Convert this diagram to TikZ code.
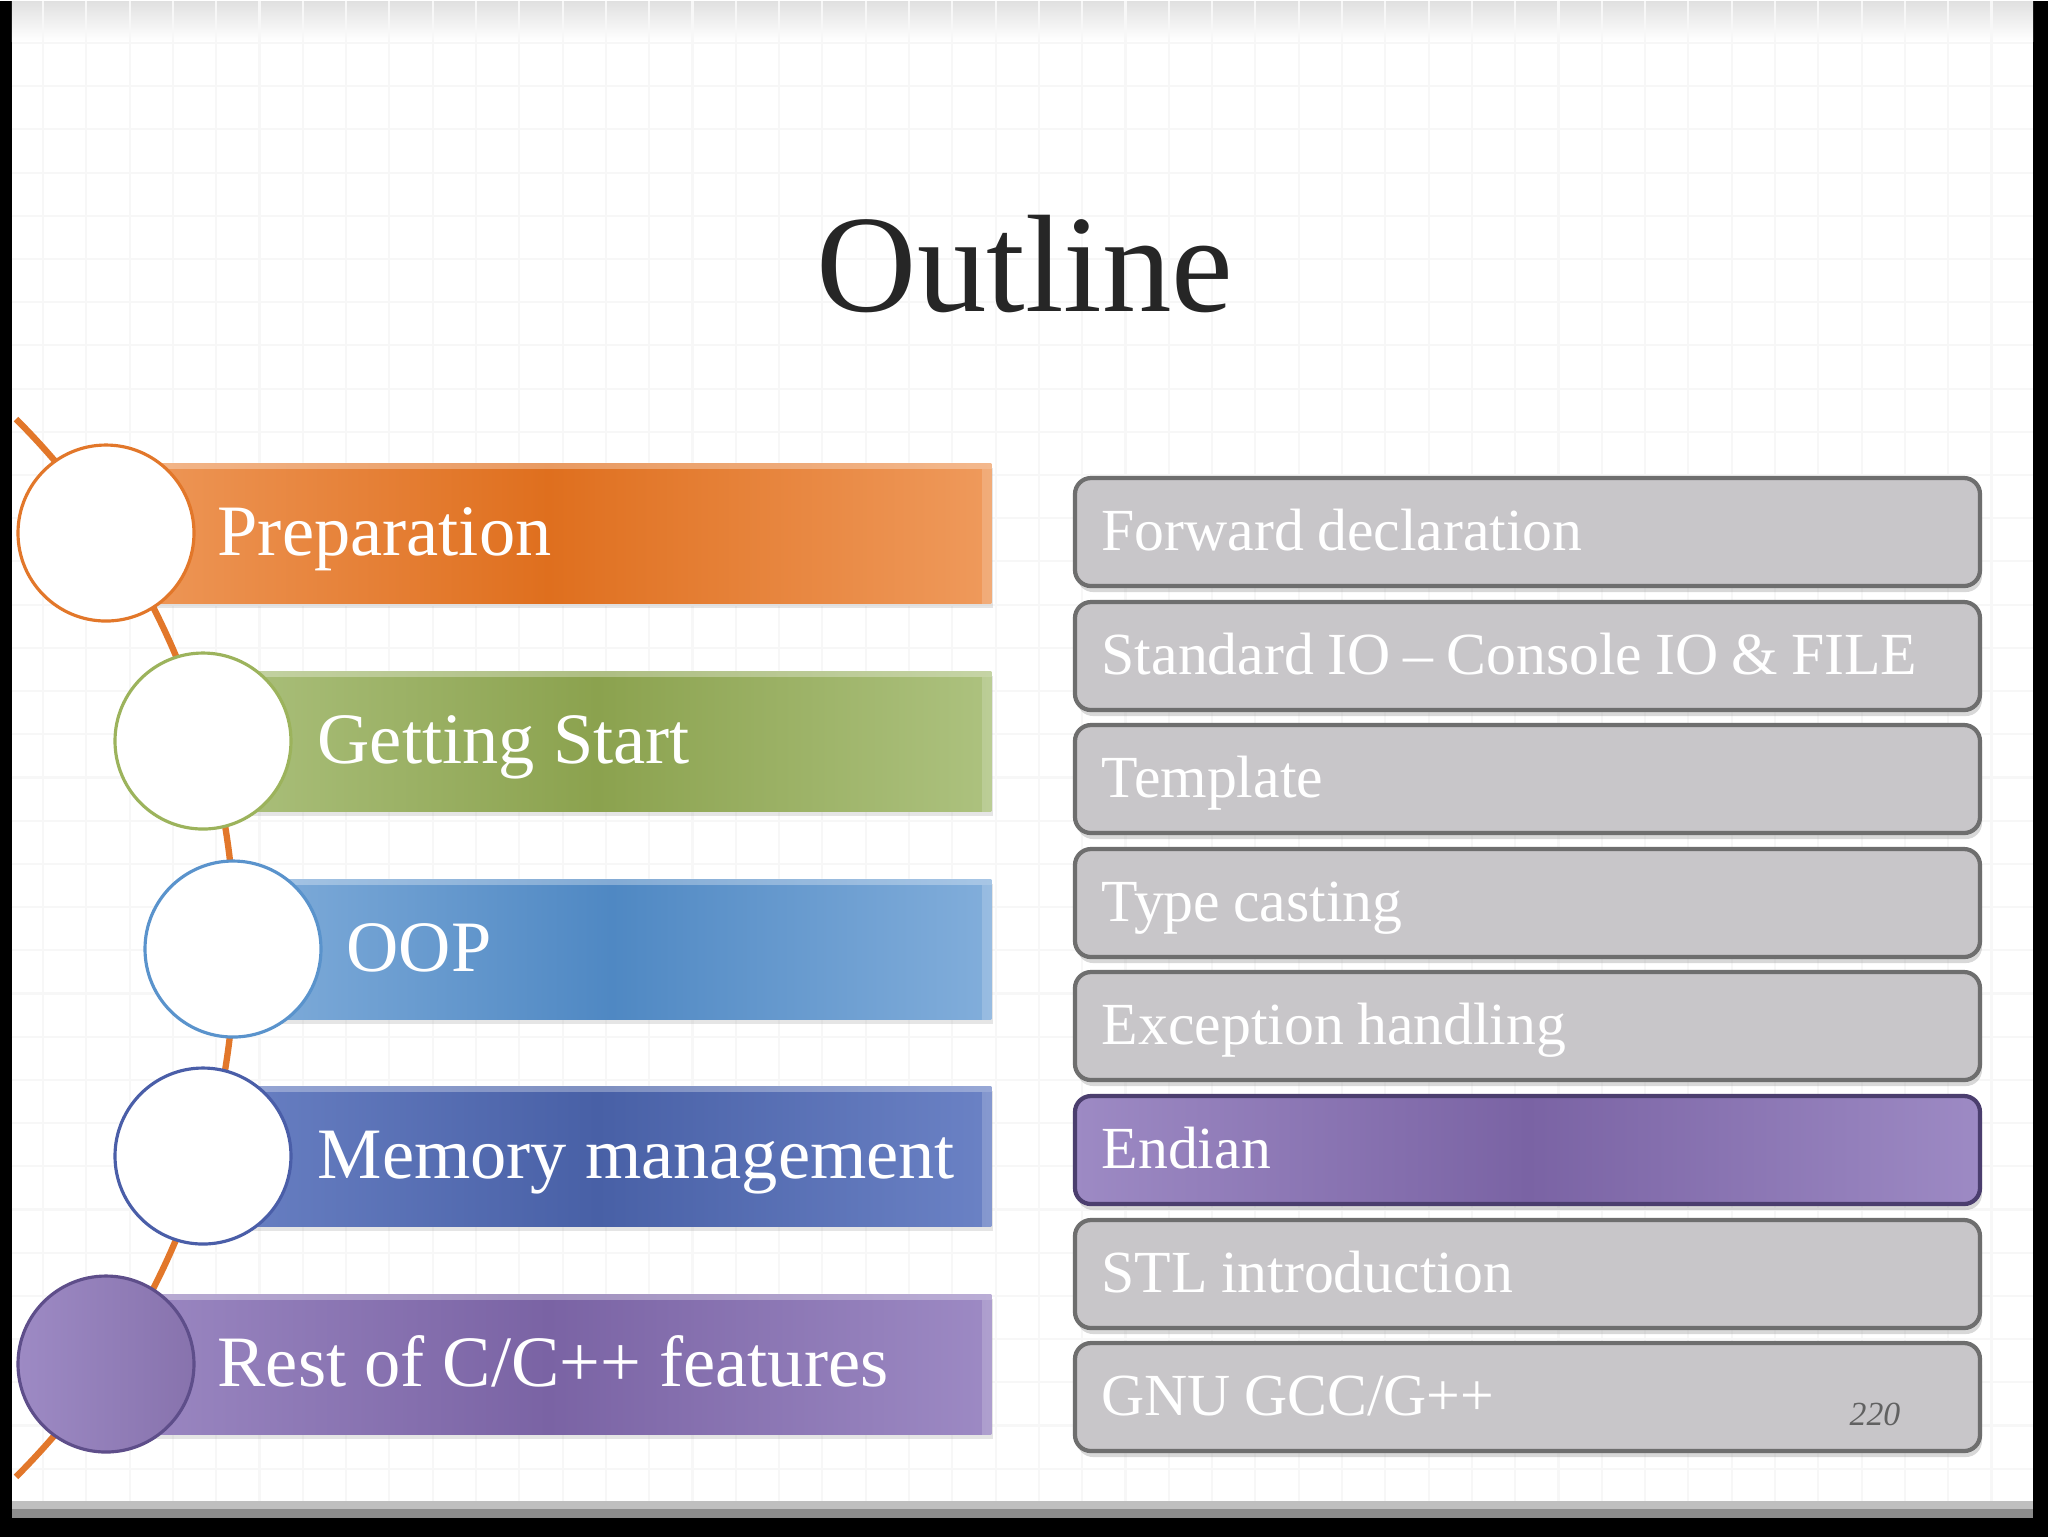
\documentclass[tikz,border=0pt]{standalone}
\usepackage{fontspec}
\setmainfont{Liberation Serif}
\usetikzlibrary{shadows}

\definecolor{prepdark}{HTML}{DF6F1E}
\definecolor{preplight}{HTML}{EF9A5C}
\definecolor{prepring}{HTML}{E2772A}
\definecolor{startdark}{HTML}{8BA24E}
\definecolor{startlight}{HTML}{ADC27F}
\definecolor{startring}{HTML}{9CB35C}
\definecolor{oopdark}{HTML}{4F88C3}
\definecolor{ooplight}{HTML}{82AEDB}
\definecolor{oopring}{HTML}{5A93CC}
\definecolor{memdark}{HTML}{4860A6}
\definecolor{memlight}{HTML}{6B82C5}
\definecolor{memring}{HTML}{4A5EA8}
\definecolor{restdark}{HTML}{7A63A4}
\definecolor{restlight}{HTML}{9D8AC4}
\definecolor{restring}{HTML}{5E4E8A}
\definecolor{boxgray}{HTML}{C8C6C9}
\definecolor{boxline}{HTML}{6E6E6E}
\definecolor{titleink}{HTML}{262626}

\newcommand{\topicfont}{\fontsize{17}{20}\selectfont\spaceskip=0.22em\relax}

\begin{document}
\begin{tikzpicture}[
    band/.style={rectangle, inner sep=0pt, minimum height=1.40cm, anchor=east,
      left color=#1light, right color=#1light, middle color=#1dark,
      drop shadow={shadow xshift=0.02cm, shadow yshift=-0.05cm, opacity=0.2}},
    bevel/.style={fill=white, opacity=0.3},
    ring/.style={circle, draw=#1ring, line width=0.9pt, fill=white,
      minimum size=1.76cm, inner sep=0pt},
    bandtext/.style={anchor=base west, inner sep=0pt, text=white,
      font=\fontsize{20.6}{24}\selectfont},
    topic/.style={rectangle, rounded corners=0.16cm, draw=boxline, line width=1.2pt,
      fill=boxgray, minimum width=9.05cm, minimum height=1.08cm, inner sep=0pt,
      drop shadow={shadow xshift=0.02cm, shadow yshift=-0.06cm, opacity=0.3}},
    current/.style={topic, draw=restring!80!black, left color=restlight,
      right color=restlight, middle color=restdark},
    topictext/.style={anchor=base west, inner sep=0pt, text=white, font=\topicfont},
    arcline/.style={draw=prepring, line width=1.8pt}]

  % slide background
  \fill[black] (0,0) rectangle (20.48,15.36);
  \fill[black!45] (0.12,0.19) rectangle (20.33,0.36);
  \fill[black!25] (0.12,0.28) rectangle (20.33,0.36);
  \fill[white] (0.12,0.36) rectangle (20.33,15.36);
  \shade[top color=black!12, bottom color=white] (0.12,14.96) rectangle (20.33,15.36);
  \foreach \gx in {0,...,45}
    \draw[black!3, line width=0.6pt] (0.43+0.433*\gx,0.36) -- (0.43+0.433*\gx,15.36);
  \foreach \gy in {0,...,33}
    \draw[black!3, line width=0.6pt] (0.12,14.94-0.432*\gy) -- (20.33,14.94-0.432*\gy);

  % title
  \node[anchor=base, inner sep=0pt, text=titleink, font=\fontsize{39.5}{46}\selectfont]
    (title) at (10.25,12.26) {Outline};

  % timeline arc behind the rings
  \coordinate (arctop) at (0.16,11.18);
  \draw[arcline] (arctop) arc[start angle=45, end angle=-45, radius=7.48];

  % left column
  \node[band=prep, minimum width=8.86cm] (prepband) at (9.92,10.04) {};
  \node[band=start, minimum width=7.89cm] (startband) at (9.92,7.96) {};
  \node[band=oop, minimum width=7.59cm] (oopband) at (9.92,5.88) {};
  \node[band=mem, minimum width=7.89cm] (memband) at (9.92,3.81) {};
  \node[band=rest, minimum width=8.86cm] (restband) at (9.92,1.73) {};

  % bevelled edges of the bands
  \fill[bevel] (prepband.north west) rectangle ([yshift=-0.07cm]prepband.north east);
  \fill[bevel] (startband.north west) rectangle ([yshift=-0.07cm]startband.north east);
  \fill[bevel] (oopband.north west) rectangle ([yshift=-0.07cm]oopband.north east);
  \fill[bevel] (memband.north west) rectangle ([yshift=-0.07cm]memband.north east);
  \fill[bevel] (restband.north west) rectangle ([yshift=-0.07cm]restband.north east);
  \fill[bevel, opacity=0.18] ([xshift=-0.1cm,yshift=-0.07cm]prepband.north east) rectangle (prepband.south east);
  \fill[bevel, opacity=0.18] ([xshift=-0.1cm,yshift=-0.07cm]startband.north east) rectangle (startband.south east);
  \fill[bevel, opacity=0.18] ([xshift=-0.1cm,yshift=-0.07cm]oopband.north east) rectangle (oopband.south east);
  \fill[bevel, opacity=0.18] ([xshift=-0.1cm,yshift=-0.07cm]memband.north east) rectangle (memband.south east);
  \fill[bevel, opacity=0.18] ([xshift=-0.1cm,yshift=-0.07cm]restband.north east) rectangle (restband.south east);

  \node[ring=prep] (prepring) at (1.06,10.04) {};
  \node[ring=start] (startring) at (2.03,7.96) {};
  \node[ring=oop] (oopring) at (2.33,5.88) {};
  \node[ring=mem] (memring) at (2.03,3.81) {};
  \node[ring=rest, left color=restlight, right color=restdark!90] (restring) at (1.06,1.73) {};

  \node[bandtext] (preptext) at (2.17,9.82) {Preparation};
  \node[bandtext] (starttext) at (3.17,7.74) {Getting Start};
  \node[bandtext] (ooptext) at (3.46,5.66) {OOP};
  \node[bandtext] (memtext) at (3.17,3.59) {Memory management};
  \node[bandtext] (resttext) at (2.17,1.51) {Rest of C/C++ features};

  % right column
  \node[topic] (forward) at (15.275,10.05) {};
  \node[topic] (stdio) at (15.275,8.81) {};
  \node[topic] (template) at (15.275,7.58) {};
  \node[topic] (casting) at (15.275,6.34) {};
  \node[topic] (exception) at (15.275,5.11) {};
  \node[current] (endian) at (15.275,3.87) {};
  \node[topic] (stl) at (15.275,2.63) {};
  \node[topic] (gnu) at (15.275,1.40) {};

  \node[topictext] (forwardtext) at (11.01,9.87) {Forward declaration};
  \node[topictext] (stdiotext) at (11.01,8.63) {Standard IO – Console IO \& FILE};
  \node[topictext] (templatetext) at (11.01,7.40) {Template};
  \node[topictext] (castingtext) at (11.01,6.16) {Type casting};
  \node[topictext] (exceptiontext) at (11.01,4.93) {Exception handling};
  \node[topictext] (endiantext) at (11.01,3.69) {Endian};
  \node[topictext] (stltext) at (11.01,2.45) {STL introduction};
  \node[topictext] (gnutext) at (11.01,1.22) {GNU GCC/G++};

  \node[anchor=base west, inner sep=0pt, text=black!62, font=\fontsize{9.6}{11}\selectfont\itshape]
    (pagenum) at (18.49,1.12) {220};
\end{tikzpicture}
\end{document}
